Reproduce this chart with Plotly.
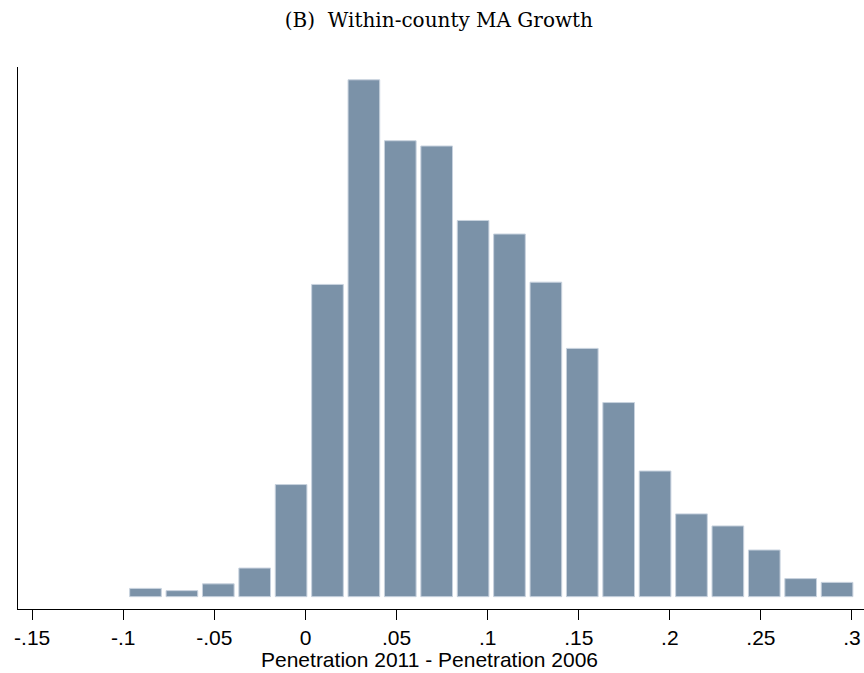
import plotly.graph_objects as go

# Histogram data (density)
bin_start = -0.0978
bin_width = 0.01998
density = [0.11, 0.08, 0.17, 0.38, 1.49, 4.15, 6.87, 6.06, 5.99, 5.00,
           4.82, 4.18, 3.30, 2.58, 1.67, 1.10, 0.94, 0.62, 0.24, 0.19]
tick_vals = [-0.15, -0.1, -0.05, 0, 0.05, 0.1, 0.15, 0.2, 0.25, 0.3]
tick_text = ["-.15", "-.1", "-.05", "0", ".05", ".1", ".15", ".2", ".25", ".3"]

centers = [bin_start + bin_width * (i + 0.5) for i in range(len(density))]

fig = go.Figure()
fig.add_trace(go.Bar(
    x=centers, y=density, width=bin_width * 0.87,
    marker=dict(color="rgb(123,146,168)",
                line=dict(color="rgb(200,210,222)", width=1)),
    showlegend=False,
))

fig.update_layout(
    width=864, height=673,
    margin=dict(l=18, r=0, t=67, b=64),
    paper_bgcolor="white", plot_bgcolor="white",
    font=dict(family="Liberation Sans, Arial", size=21, color="black"),
    title=dict(text="(B)  Within-county MA Growth", x=0.508, xanchor="center",
               y=0.97, yanchor="middle",
               font=dict(family="DejaVu Serif", size=20, color="black")),
    xaxis=dict(range=[-0.1578, 0.3066], showline=True, linecolor="black", linewidth=1.3,
               tickmode="array", tickvals=tick_vals, ticktext=tick_text,
               ticks="outside", ticklen=10, tickwidth=1.3, tickcolor="black",
               showgrid=False, zeroline=False, ticklabelstandoff=0,
               tickfont=dict(size=21)),
    yaxis=dict(range=[-0.164, 7.04], showline=True, linecolor="black", linewidth=1.3,
               showticklabels=False, ticks="", showgrid=False, zeroline=False),
    annotations=[dict(text="Penetration 2011 - Penetration 2006", xref="paper", yref="paper",
                      x=(429 - 18) / 846, y=-(659 - 609) / 542, xanchor="center", yanchor="middle",
                      showarrow=False, font=dict(size=21, color="black"))],
)

fig.write_html("out.html")
